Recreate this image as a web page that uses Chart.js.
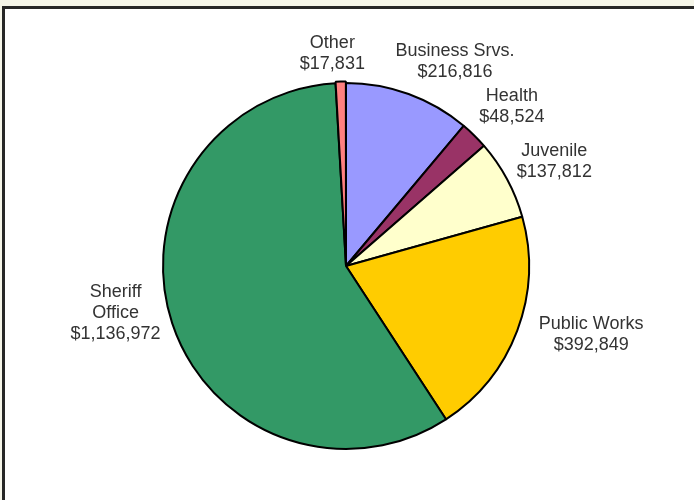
<!DOCTYPE html>
<html>
<head>
<meta charset="utf-8">
<script src="https://cdn.jsdelivr.net/npm/chart.js@4"></script>
<style>
    html, body { margin: 0; padding: 0; }
    body { width: 694px; height: 500px; background: #f5f5e8; position: relative; overflow: hidden; }
    #frame {
        position: absolute; left: 2px; top: 6px; width: 700px; height: 500px;
        background: #ffffff; border: 3px solid #262626; box-sizing: border-box;
    }
    #wrap { position: absolute; left: 0; top: 0; width: 694px; height: 500px; }
</style>
</head>
<body>
<div id="frame"></div>
<div id="wrap"><canvas id="budgetpie" width="694" height="500"></canvas></div>
<script>
'use strict';

// departments, clockwise from 12 o'clock
const departments = [
    ['Business Srvs.'],
    ['Health'],
    ['Juvenile'],
    ['Public Works'],
    ['Sheriff', 'Office'],
    ['Other'],
];
const amounts = [216816, 48524, 137812, 392849, 1136972, 17831];
const sliceColors = ['#9999ff', '#993366', '#ffffcc', '#ffcc00', '#339966', '#ff8080'];

// label nudges (px) from the default spot just outside each slice
const labelShift = [[30, 13], [4, 5], [5, 5], [29, -13], [-11, -25], [-7, 18]];

function money(v) {
    return '$' + v.toLocaleString('en-US');
}

// draws "name / $amount" beside every slice
const sliceLabels = {
    id: 'sliceLabels',
    afterDatasetsDraw(chart) {
        const ctx = chart.ctx;
        const meta = chart.getDatasetMeta(0);
        ctx.save();
        ctx.font = '18px "Liberation Sans", Arial, sans-serif';
        ctx.fillStyle = '#333333';
        ctx.textAlign = 'center';
        ctx.textBaseline = 'middle';
        meta.data.forEach((arc, i) => {
            const p = arc.getProps(['x', 'y', 'startAngle', 'endAngle', 'outerRadius'], true);
            const mid = (p.startAngle + p.endAngle) / 2;
            const dist = p.outerRadius + 48;
            const cx = p.x + Math.cos(mid) * dist + labelShift[i][0];
            const cy = p.y + Math.sin(mid) * dist + labelShift[i][1];
            const lines = departments[i].concat([money(amounts[i])]);
            const lh = 21;
            const top = cy - (lines.length - 1) * lh / 2;
            lines.forEach((t, k) => ctx.fillText(t, cx, top + k * lh));
        });
        ctx.restore();
    }
};

const chart = new Chart(document.getElementById('budgetpie'), {
    type: 'pie',
    data: {
        labels: departments.map(d => d.join(' ')),
        datasets: [{
            data: amounts,
            backgroundColor: sliceColors,
            borderColor: '#000000',
            borderWidth: 2,
            offset: [0, 0, 0, 0, 0, 3],
            radius: 183,
        }]
    },
    options: {
        responsive: false,
        animation: false,
        layout: { padding: { left: 0, right: 2, top: 32, bottom: 0 } },
        plugins: {
            legend: { display: false },
            tooltip: { enabled: false },
        }
    },
    plugins: [sliceLabels]
});
</script>
</body>
</html>
